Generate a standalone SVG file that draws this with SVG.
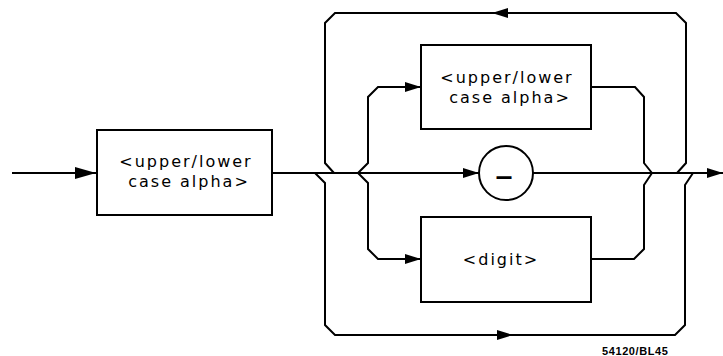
<svg xmlns="http://www.w3.org/2000/svg" width="723" height="356" viewBox="0 0 723 356">
<style>
.box{fill:#fff;stroke:#000;stroke-width:2}
.ln{fill:none;stroke:#000;stroke-width:2;stroke-linejoin:miter}
.lbl{font-family:"DejaVu Sans",sans-serif;font-size:16px;letter-spacing:2px;text-anchor:middle;fill:#000}
.foot{font-family:"Liberation Sans",Arial,sans-serif;font-size:11px;font-weight:bold;letter-spacing:0.6px;fill:#000}
</style>
<defs>
<marker id="ah" markerUnits="userSpaceOnUse" markerWidth="16" markerHeight="10" refX="16" refY="5" orient="auto">
<path d="M0,0 L16,5 L0,10 z" fill="#000"/>
</marker>
<marker id="ahBig" markerUnits="userSpaceOnUse" markerWidth="21" markerHeight="12" refX="21" refY="6" orient="auto">
<path d="M0,0 L21,6 L0,12 z" fill="#000"/>
</marker>
</defs>
<g id="connectors">
<path class="ln" d="M12,173 H96" marker-end="url(#ahBig)"/>
<path class="ln" d="M272,173 H479" marker-end="url(#ah)"/>
<path class="ln" d="M533,173 H723" marker-end="url(#ah)"/>
<path class="ln" d="M677,173 L686,163 V23 L676,13 H492" marker-end="url(#ah)"/>
<path class="ln" d="M492,13 H335 L325,23 V163 L334,173"/>
<path class="ln" d="M315,173 L325,183 V325 L335,335 H513" marker-end="url(#ah)"/>
<path class="ln" d="M513,335 H675 L685,325 V185 L693,173"/>
<path class="ln" d="M358,173 L368,163 V97 L378,87 H421" marker-end="url(#ah)"/>
<path class="ln" d="M591,87 H635 L644,97 V163 L652,173"/>
<path class="ln" d="M358,173 L368,183 V249 L378,259 H421" marker-end="url(#ah)"/>
<path class="ln" d="M591,259 H634 L644,249 V185 L652,173"/>
</g>
<g id="node-alpha1">
<rect class="box" x="97" y="130" width="175" height="85"/>
<text class="lbl" x="186" y="167">&lt;upper/lower</text>
<text class="lbl" x="189" y="187">case alpha&gt;</text>
</g>
<g id="node-alpha2">
<rect class="box" x="421" y="45" width="170" height="84"/>
<text class="lbl" x="507" y="83">&lt;upper/lower</text>
<text class="lbl" x="510" y="103">case alpha&gt;</text>
</g>
<g id="node-underscore">
<circle class="box" cx="506" cy="173" r="27"/>
<text class="lbl" x="504" y="172" style="letter-spacing:0;font-size:30px;font-weight:bold">_</text>
</g>
<g id="node-digit">
<rect class="box" x="421" y="217" width="170" height="85"/>
<text class="lbl" x="501" y="265">&lt;digit&gt;</text>
</g>
<text class="foot" x="602" y="355">54120/BL45</text>
</svg>
